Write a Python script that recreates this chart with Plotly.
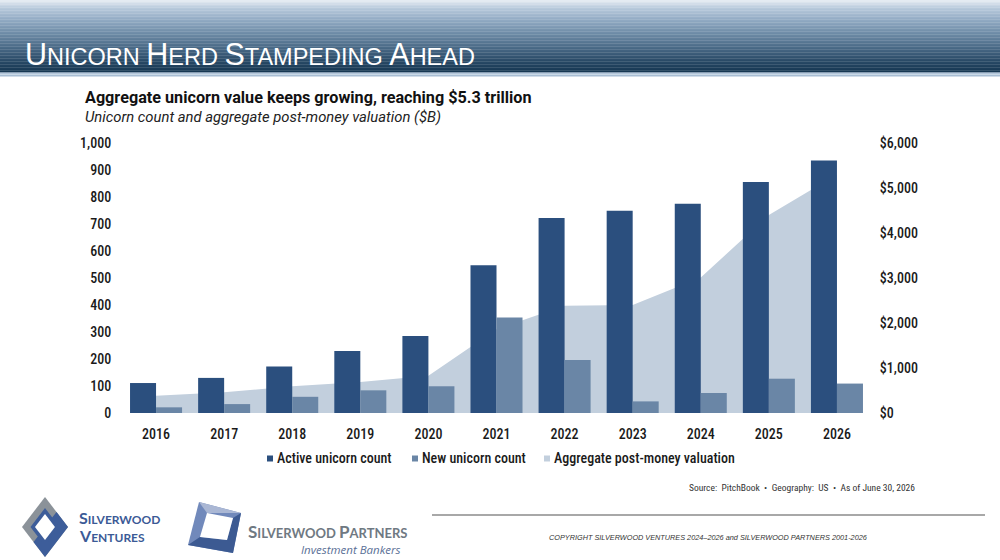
import plotly.graph_objects as go

# ---------------- data ----------------
years = ["2016", "2017", "2018", "2019", "2020", "2021", "2022", "2023", "2024", "2025", "2026"]
active_count = [111, 130, 172, 230, 285, 547, 722, 749, 775, 856, 935]
new_count = [21, 33, 60, 84, 99, 354, 196, 43, 74, 127, 109]
valuation_b = [385, 460, 595, 690, 830, 1860, 2385, 2400, 3010, 4400, 5300]

left_ticks = [0, 100, 200, 300, 400, 500, 600, 700, 800, 900, 1000]
right_ticks = [0, 1000, 2000, 3000, 4000, 5000, 6000]

C_ACTIVE = "#2b4f7e"
C_NEW = "#6a86a6"
C_AREA = "#c2cfdd"

W, H = 1000, 560
ML, MR, MT, MB = 122, 129, 143, 147
PW, PH = W - ML - MR, H - MT - MB


def px(x):
    return (x - ML) / PW


def py(y):
    return (H - MB - y) / PH


fig = go.Figure()

# area on base axis (drawn beneath the bars)
fig.add_trace(go.Scatter(
    x=years, y=valuation_b, mode="lines", fill="tozeroy",
    line=dict(width=0, color=C_AREA), fillcolor=C_AREA,
    name="Aggregate post-money valuation", yaxis="y", showlegend=False,
    hoverinfo="skip"))
fig.add_trace(go.Bar(x=years, y=active_count, name="Active unicorn count",
                     marker=dict(color=C_ACTIVE, line=dict(width=0)),
                     yaxis="y2", showlegend=False))
fig.add_trace(go.Bar(x=years, y=new_count, name="New unicorn count",
                     marker=dict(color=C_NEW, line=dict(width=0)),
                     yaxis="y2", showlegend=False))

COND = "Roboto Condensed, Liberation Sans Narrow, DejaVu Sans Condensed, Roboto"
tickfont = dict(family=COND, size=14, color="#1a1a1a", weight=500)

shapes = []
annotations = []

# ---------------- header gradient ----------------
stops = [(0, (233, 238, 244)), (8, (184, 202, 220)), (20, (145, 170, 195)),
         (35, (106, 136, 163)), (50, (68, 100, 129)), (62, (39, 72, 100)),
         (72, (22, 55, 82))]


def col_at(y):
    for (y0, c0), (y1, c1) in zip(stops[:-1], stops[1:]):
        if y0 <= y <= y1:
            t = (y - y0) / (y1 - y0)
            return "rgb(%d,%d,%d)" % tuple(round(a + (b - a) * t) for a, b in zip(c0, c1))
    return "rgb(%d,%d,%d)" % stops[-1][1]


step = 1.5
yy = 0.0
while yy < 72.5:
    shapes.append(dict(type="rect", xref="paper", yref="paper",
                       x0=px(0), x1=px(W), y0=py(yy), y1=py(min(yy + step + 0.3, 72.5)),
                       fillcolor=col_at(yy + step / 2), line=dict(width=0), layer="below"))
    yy += step
shapes.append(dict(type="rect", xref="paper", yref="paper", x0=px(0), x1=px(W),
                   y0=py(72.5), y1=py(76.5), fillcolor="rgb(168,190,212)",
                   line=dict(width=0), layer="below"))
shapes.append(dict(type="rect", xref="paper", yref="paper", x0=px(0), x1=px(W),
                   y0=py(73.8), y1=py(74.8), fillcolor="rgb(214,226,237)",
                   line=dict(width=0), layer="below"))


def sc(text, big, small):
    # small caps helper
    out = []
    for word in text.split(" "):
        out.append("<span style='font-size:%spx'>%s</span>%s" % (big, word[0], word[1:]))
    return " ".join(out)


annotations.append(dict(
    xref="paper", yref="paper", x=px(23), y=py(54), xanchor="left", yanchor="middle",
    text=sc("UNICORN HERD STAMPEDING AHEAD", 30.5, 23.5), showarrow=False,
    font=dict(family="Liberation Sans", size=23.5, color="white")))

# ---------------- chart titles ----------------
annotations.append(dict(
    xref="paper", yref="paper", x=px(83), y=py(97), xanchor="left", yanchor="middle",
    text="<b>Aggregate unicorn value keeps growing, reaching $5.3 trillion</b>",
    showarrow=False, font=dict(family="Roboto", size=16.2, color="#111")))
annotations.append(dict(
    xref="paper", yref="paper", x=px(83), y=py(117), xanchor="left", yanchor="middle",
    text="<i>Unicorn count and aggregate post-money valuation ($B)</i>",
    showarrow=False, font=dict(family="Roboto", size=14.8, color="#222")))

# ---------------- custom legend ----------------
legend_items = [("Active unicorn count", C_ACTIVE, 267),
                ("New unicorn count", C_NEW, 412),
                ("Aggregate post-money valuation", C_AREA, 544)]
LEG_Y = 458
for label, colr, lx in legend_items:
    shapes.append(dict(type="rect", xref="paper", yref="paper",
                       x0=px(lx), x1=px(lx + 6), y0=py(LEG_Y + 3.5), y1=py(LEG_Y - 2.5),
                       fillcolor=colr, line=dict(width=0)))
    annotations.append(dict(
        xref="paper", yref="paper", x=px(lx + 8), y=py(LEG_Y), xanchor="left",
        yanchor="middle", text=label, showarrow=False, font=tickfont))

# ---------------- source + footer ----------------
annotations.append(dict(
    xref="paper", yref="paper", x=px(917), y=py(487), xanchor="right", yanchor="middle",
    text="Source:  PitchBook  \u2022  Geography:  US  \u2022  As of June 30, 2026",
    showarrow=False, font=dict(family=COND, size=9.5, color="#333")))
shapes.append(dict(type="line", xref="paper", yref="paper", x0=px(432), x1=px(985),
                   y0=py(515), y1=py(515), line=dict(color="#a8a8a8", width=2)))
annotations.append(dict(
    xref="paper", yref="paper", x=px(708), y=py(537), xanchor="center", yanchor="middle",
    text="<i>COPYRIGHT SILVERWOOD VENTURES 2024\u20132026 and SILVERWOOD PARTNERS 2001-2026</i>",
    showarrow=False, font=dict(family="Liberation Sans", size=7.3, color="#333")))


def path(points):
    return "M " + " L ".join("%.4f,%.4f" % (px(a), py(b)) for a, b in points) + " Z"


# Silverwood Ventures logo
GRAY = "#8b9299"
BLUE = "#3d5d9a"
cx, cy = 45, 527
shapes.append(dict(type="path", xref="paper", yref="paper",
                   path=path([(cx, cy - 30), (cx + 23, cy), (cx, cy + 30), (cx - 23, cy)]),
                   fillcolor=GRAY, line=dict(width=0)))
shapes.append(dict(type="path", xref="paper", yref="paper",
                   path=path([(cx + 11.5, cy - 15), (cx + 23, cy), (cx, cy + 30), (cx - 11.5, cy + 15),
                              (cx - 6, cy + 8), (cx, cy + 16), (cx + 12, cy), (cx + 6, cy - 8)]),
                   fillcolor=BLUE, line=dict(width=0)))
shapes.append(dict(type="path", xref="paper", yref="paper",
                   path=path([(cx, cy - 19), (cx + 14.5, cy), (cx, cy + 19), (cx - 14.5, cy)]),
                   fillcolor=BLUE, line=dict(width=0)))
shapes.append(dict(type="path", xref="paper", yref="paper",
                   path=path([(cx, cy - 13), (cx + 10, cy), (cx, cy + 13), (cx - 10, cy)]),
                   fillcolor="white", line=dict(width=0)))
annotations.append(dict(
    xref="paper", yref="paper", x=px(77), y=py(517), xanchor="left", yanchor="middle",
    text="<b>" + sc("SILVERWOOD", 16, 12) + "</b>", showarrow=False,
    font=dict(family="Lato", size=12, color="#3b5a96")))
annotations.append(dict(
    xref="paper", yref="paper", x=px(77), y=py(535), xanchor="left", yanchor="middle",
    text="<b>" + sc("VENTURES", 16, 12) + "</b>", showarrow=False,
    font=dict(family="Lato", size=12, color="#3b5a96")))

# Silverwood Partners logo
shapes.append(dict(type="path", xref="paper", yref="paper",
                   path=path([(199, 502), (241, 513), (233, 553), (188, 545)]),
                   fillcolor="#7189bb", line=dict(width=0)))
shapes.append(dict(type="path", xref="paper", yref="paper",
                   path=path([(199, 502), (241, 513), (207, 513)]),
                   fillcolor="#aab7d4", line=dict(width=0)))
shapes.append(dict(type="path", xref="paper", yref="paper",
                   path=path([(241, 513), (233, 553), (188, 545), (200, 537), (227, 540), (233, 518)]),
                   fillcolor="#3c5a92", line=dict(width=0)))
shapes.append(dict(type="path", xref="paper", yref="paper",
                   path=path([(207, 513), (233, 518), (227, 540), (200, 537)]),
                   fillcolor="white", line=dict(width=0)))
annotations.append(dict(
    xref="paper", yref="paper", x=px(246), y=py(531), xanchor="left", yanchor="middle",
    text="<b>" + sc("SILVERWOOD PARTNERS", 17, 13) + "</b>", showarrow=False,
    font=dict(family="Lato", size=13, color="#6f7982")))
annotations.append(dict(
    xref="paper", yref="paper", x=px(403), y=py(549), xanchor="right", yanchor="middle",
    text="<i>Investment Bankers</i>", showarrow=False,
    font=dict(family="Open Sans", size=11.5, color="#5a6f96")))

fig.update_layout(
    width=W, height=H,
    margin=dict(l=ML, r=MR, t=MT, b=MB, pad=0),
    paper_bgcolor="white", plot_bgcolor="white",
    barmode="group", bargap=0.236, bargroupgap=0,
    showlegend=False,
    xaxis=dict(type="category", showgrid=False, zeroline=False, showline=False,
               ticks="outside", ticklen=8, tickcolor="rgba(0,0,0,0)",
               tickfont=tickfont, range=[-0.5, 10.5]),
    yaxis=dict(side="right", range=[0, 6000], tickvals=right_ticks,
               ticktext=["$" + format(v, ",") for v in right_ticks],
               showgrid=False, zeroline=False, showline=False,
               ticks="outside", ticklen=5, tickcolor="rgba(0,0,0,0)", tickfont=tickfont),
    yaxis2=dict(side="left", overlaying="y", range=[0, 1000], tickvals=left_ticks,
                ticktext=[format(v, ",") for v in left_ticks],
                showgrid=False, zeroline=False, showline=False,
                ticks="outside", ticklen=7, tickcolor="rgba(0,0,0,0)", tickfont=tickfont),
    shapes=shapes, annotations=annotations,
    font=dict(family="Roboto"),
)

fig.write_html("out.html", config={"displayModeBar": False},
               post_script="document.body.style.margin='0';")
